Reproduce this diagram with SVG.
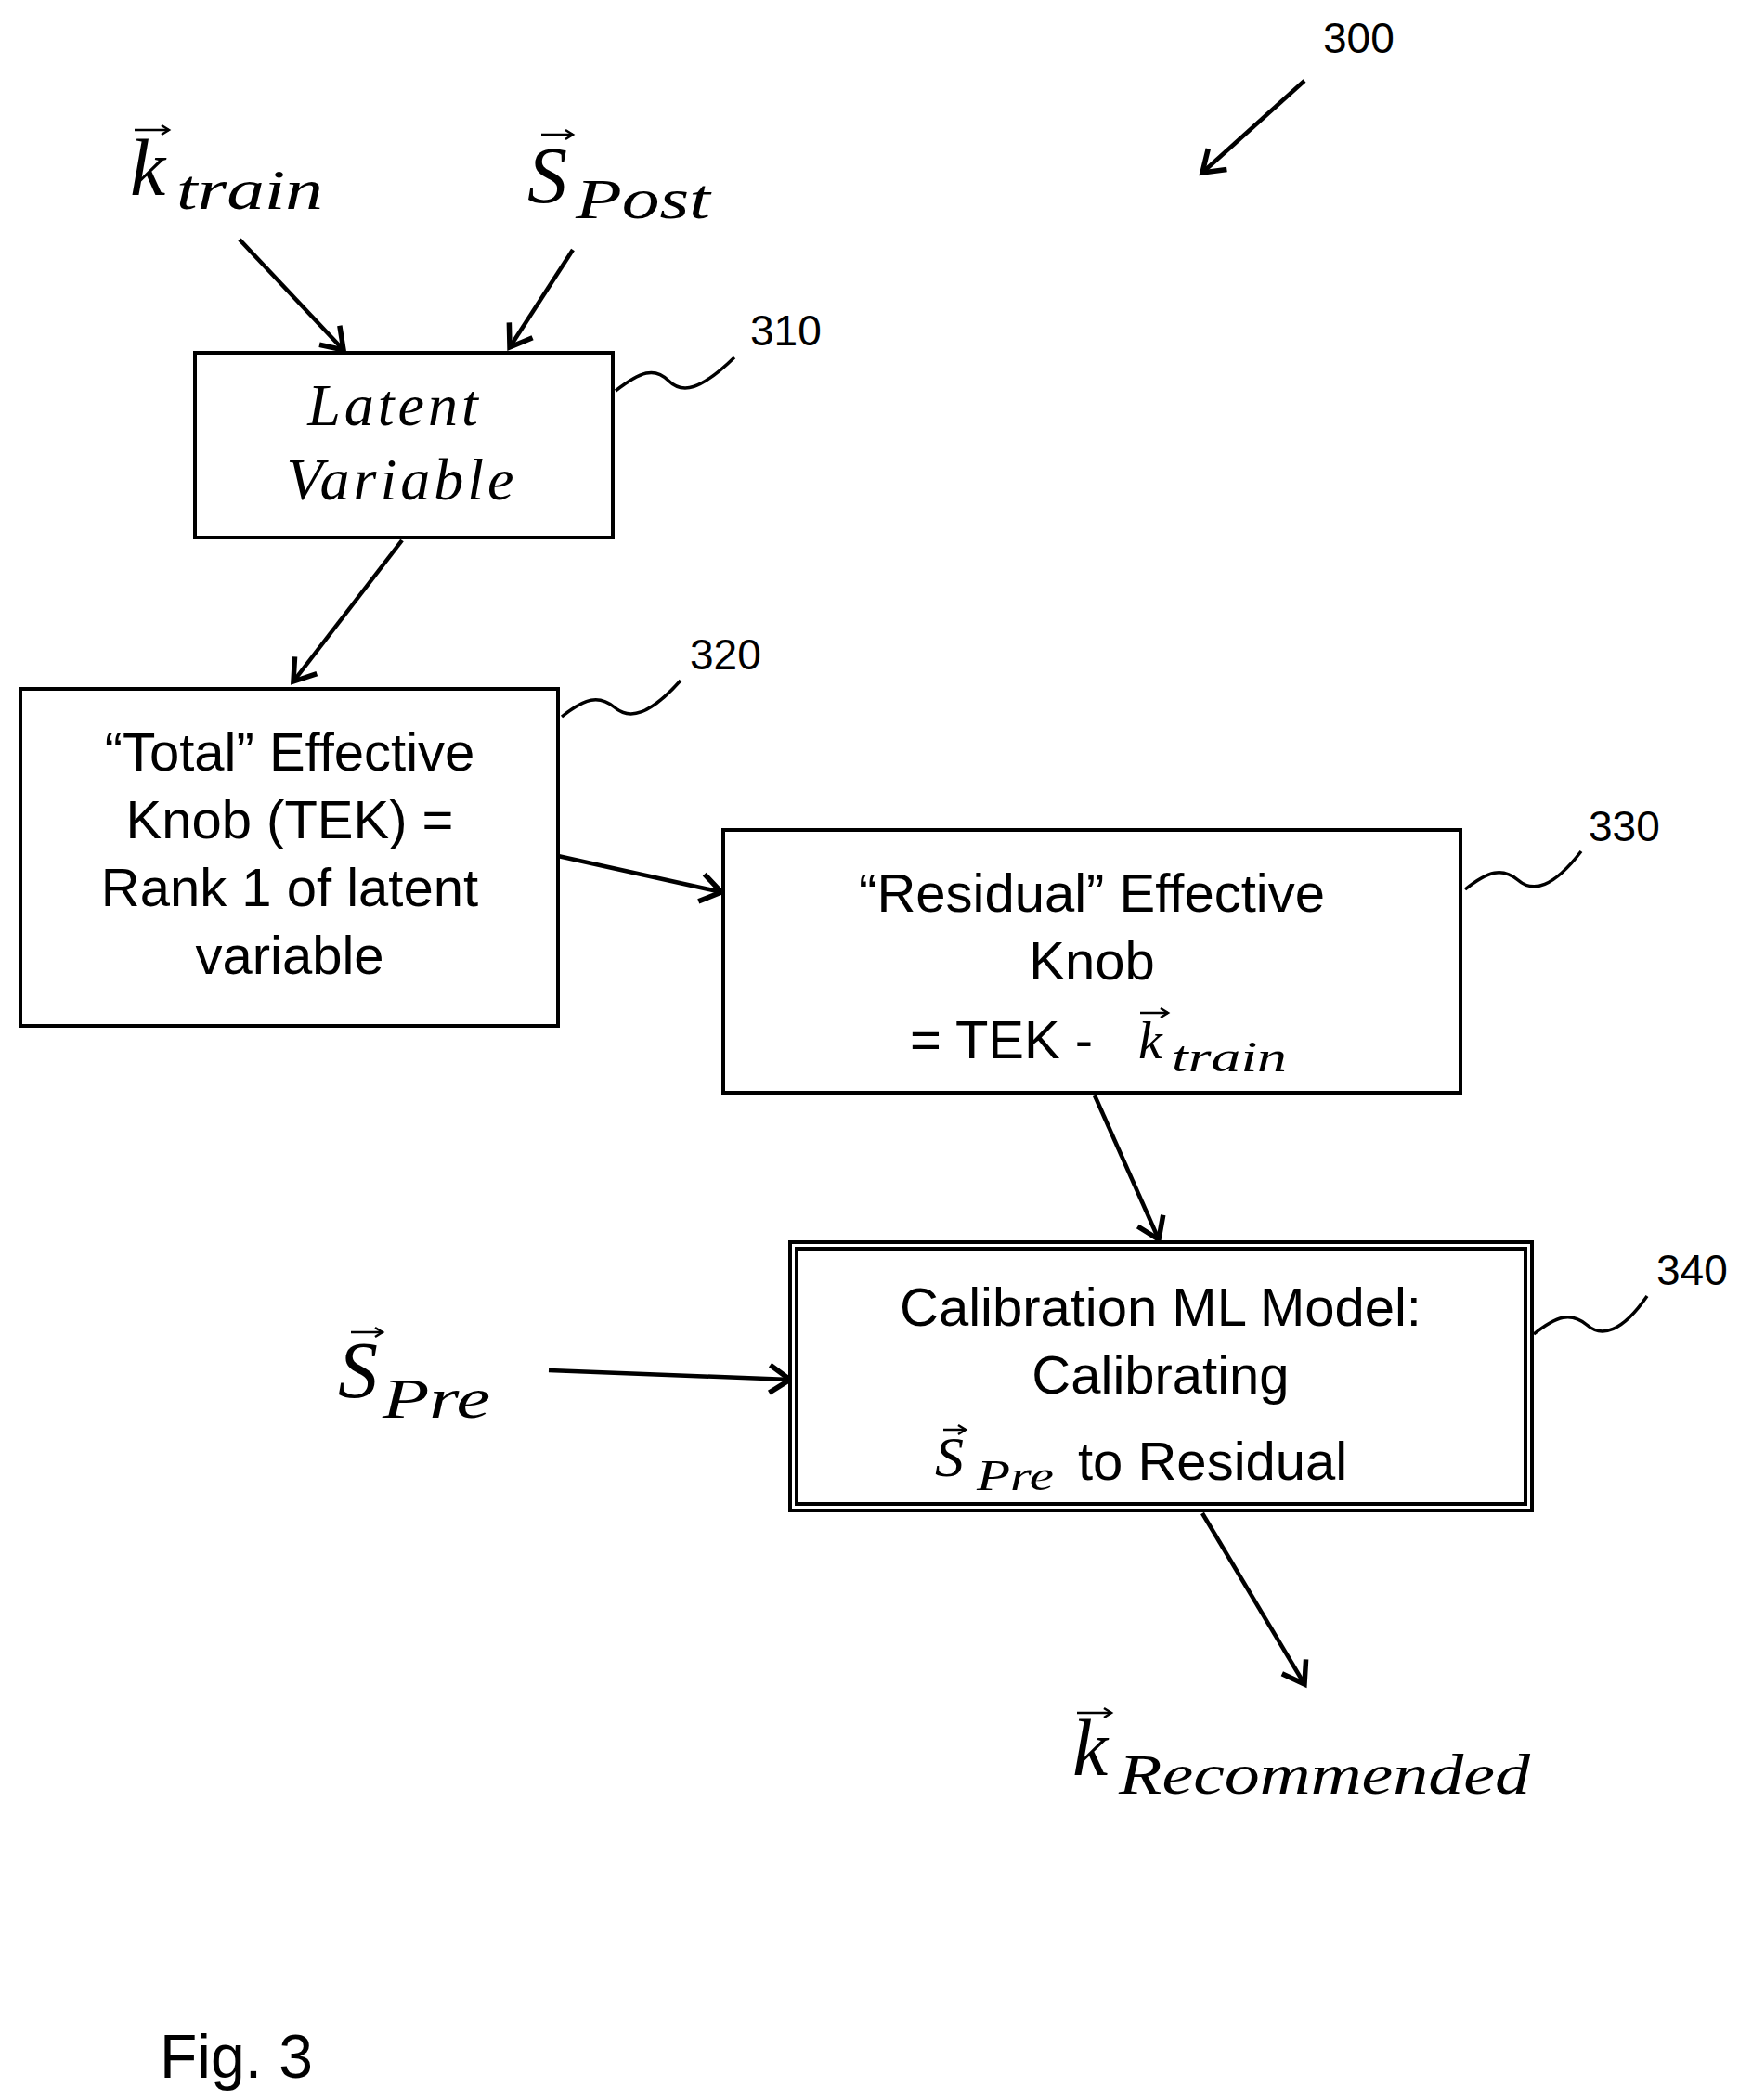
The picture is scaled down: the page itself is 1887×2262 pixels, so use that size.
<svg xmlns="http://www.w3.org/2000/svg" width="1887" height="2262" viewBox="0 0 1887 2262">
<style>
.box{fill:#fff;stroke:#000;stroke-width:4}
.c{stroke:#000;stroke-width:4.5;fill:none}
.sq{stroke:#000;stroke-width:3.5;fill:none}
.sans{font-family:"Liberation Sans",Arial,sans-serif;font-size:58px;text-anchor:middle}
.st{font-family:"Liberation Sans",Arial,sans-serif;font-size:58px;text-anchor:start}
.lbl{font-family:"Liberation Sans",Arial,sans-serif;font-size:46px}
.mi{font-family:"Liberation Serif","DejaVu Serif",serif;font-style:italic}
.va{stroke:#000;stroke-width:2.5;fill:none}
</style>
<defs>
<marker id="a" markerWidth="40" markerHeight="40" refX="0" refY="0" viewBox="-30 -20 40 40" orient="auto" markerUnits="userSpaceOnUse">
<path d="M-22,-15 L0,0 L-22,15" fill="none" stroke="#000" stroke-width="5.5"/>
</marker>
<marker id="v" markerWidth="14" markerHeight="14" refX="0" refY="0" viewBox="-10 -7 14 14" orient="auto" markerUnits="userSpaceOnUse">
<path d="M-8,-5 L0,0 L-8,5" fill="none" stroke="#000" stroke-width="2.5"/>
</marker>
</defs>
<g id="connectors">
<line class="c" x1="258" y1="258" x2="370" y2="377" marker-end="url(#a)"/>
<line class="c" x1="617" y1="269" x2="549" y2="374" marker-end="url(#a)"/>
<line class="c" x1="433" y1="582" x2="316" y2="734" marker-end="url(#a)"/>
<line class="c" x1="601" y1="922" x2="777" y2="961" marker-end="url(#a)"/>
<line class="c" x1="1179" y1="1180" x2="1248" y2="1335" marker-end="url(#a)"/>
<line class="c" x1="591" y1="1476" x2="851" y2="1486" marker-end="url(#a)"/>
<line class="c" x1="1295" y1="1630" x2="1405" y2="1814" marker-end="url(#a)"/>
<line class="c" x1="1405" y1="87" x2="1295" y2="186" marker-end="url(#a)"/>
<path class="sq" d="M663,421 C690,400 705,395 720,410 C735,425 755,420 791,385"/>
<path class="sq" d="M605,772 C630,752 645,748 662,762 C678,776 700,770 733,733"/>
<path class="sq" d="M1578,958 C1603,938 1618,934 1635,948 C1651,962 1673,956 1703,917"/>
<path class="sq" d="M1652,1437 C1677,1417 1692,1413 1709,1427 C1725,1441 1747,1435 1774,1396"/>
</g>
<g id="n300"><text class="lbl" x="1425" y="57">300</text></g>
<g id="n310">
<rect class="box" x="210" y="380" width="450" height="199"/>
<text class="mi" x="425" y="458" font-size="64" text-anchor="middle" letter-spacing="4">Latent</text>
<text class="mi" x="433" y="538" font-size="64" text-anchor="middle" letter-spacing="4">Variable</text>
<text class="lbl" x="808" y="372">310</text>
</g>
<g id="n320">
<rect class="box" x="22" y="742" width="579" height="363"/>
<text class="sans" x="312" y="830">“Total” Effective</text>
<text class="sans" x="312" y="903">Knob (TEK) =</text>
<text class="sans" x="312" y="976">Rank 1 of latent</text>
<text class="sans" x="312" y="1049">variable</text>
<text class="lbl" x="743" y="721">320</text>
</g>
<g id="n330">
<rect class="box" x="779" y="894" width="794" height="283"/>
<text class="sans" x="1176" y="982">“Residual” Effective</text>
<text class="sans" x="1176" y="1055">Knob</text>
<text class="st" x="980" y="1140">= TEK -</text>
<text class="mi" x="1226" y="1140" font-size="58">k</text>
<line class="va" x1="1228" y1="1091" x2="1258" y2="1091" marker-end="url(#v)"/>
<text class="mi" x="1262" y="1154" font-size="46" textLength="124" lengthAdjust="spacingAndGlyphs">train</text>
<text class="lbl" x="1711" y="906">330</text>
</g>
<g id="n340">
<rect class="box" x="851" y="1338" width="799" height="289"/>
<rect class="box" x="858" y="1345" width="785" height="275" stroke-width="2.5"/>
<text class="sans" x="1250" y="1428">Calibration ML Model:</text>
<text class="sans" x="1250" y="1501">Calibrating</text>
<text class="mi" x="1007" y="1590" font-size="62">S</text>
<line class="va" x1="1016" y1="1540" x2="1040" y2="1540" marker-end="url(#v)"/>
<text class="mi" x="1052" y="1605" font-size="46" textLength="83" lengthAdjust="spacingAndGlyphs">Pre</text>
<text class="st" x="1161" y="1594">to Residual</text>
<text class="lbl" x="1784" y="1384">340</text>
</g>
<g id="ktrain">
<text class="mi" x="140" y="210" font-size="86">k</text>
<line class="va" x1="145" y1="140" x2="182" y2="140" marker-end="url(#v)"/>
<text class="mi" x="190" y="225" font-size="62" textLength="158" lengthAdjust="spacingAndGlyphs">train</text>
</g>
<g id="spost">
<text class="mi" x="568" y="218" font-size="86">S</text>
<line class="va" x1="583" y1="145" x2="617" y2="145" marker-end="url(#v)"/>
<text class="mi" x="620" y="235" font-size="62" textLength="145" lengthAdjust="spacingAndGlyphs">Post</text>
</g>
<g id="spre">
<text class="mi" x="364" y="1505" font-size="86">S</text>
<line class="va" x1="378" y1="1435" x2="412" y2="1435" marker-end="url(#v)"/>
<text class="mi" x="412" y="1527" font-size="62" textLength="116" lengthAdjust="spacingAndGlyphs">Pre</text>
</g>
<g id="krec">
<text class="mi" x="1155" y="1912" font-size="86">k</text>
<line class="va" x1="1160" y1="1845" x2="1197" y2="1845" marker-end="url(#v)"/>
<text class="mi" x="1205" y="1932" font-size="62" textLength="443" lengthAdjust="spacingAndGlyphs">Recommended</text>
</g>
<text x="172" y="2238" font-family="Liberation Sans,Arial,sans-serif" font-size="66">Fig. 3</text>
</svg>
